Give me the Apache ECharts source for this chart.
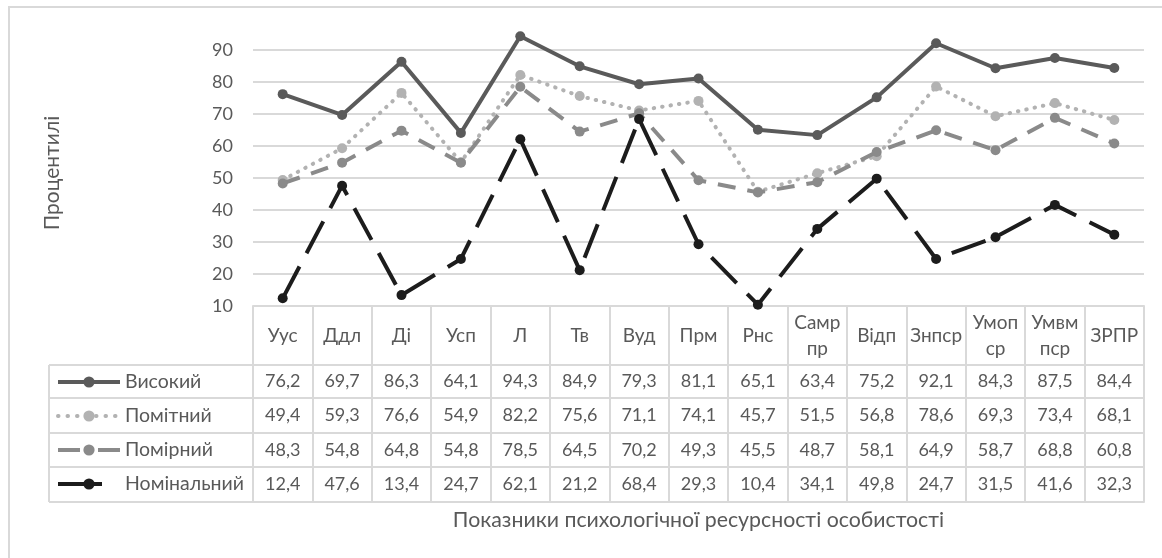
<!DOCTYPE html>
<html><head><meta charset="utf-8">
<script src="https://cdn.jsdelivr.net/npm/echarts@6/dist/echarts.min.js"></script>
<style>html,body{margin:0;padding:0;background:#fff}#c{width:1162px;height:558px}</style>
</head><body><div id="c"></div>
<script>
const categories = ['Уус','Ддл','Ді','Усп','Л','Тв','Вуд','Прм','Рнс','Самр\nпр','Відп','Знпср','Умоп\nср','Умвм\nпср','ЗРПР'];
const seriesNames = ['Високий','Помітний','Помірний','Номінальний'];
const vysokyi = [76.2,69.7,86.3,64.1,94.3,84.9,79.3,81.1,65.1,63.4,75.2,92.1,84.3,87.5,84.4];
const pomitnyi = [49.4,59.3,76.6,54.9,82.2,75.6,71.1,74.1,45.7,51.5,56.8,78.6,69.3,73.4,68.1];
const pomirnyi = [48.3,54.8,64.8,54.8,78.5,64.5,70.2,49.3,45.5,48.7,58.1,64.9,58.7,68.8,60.8];
const nominalnyi = [12.4,47.6,13.4,24.7,62.1,21.2,68.4,29.3,10.4,34.1,49.8,24.7,31.5,41.6,32.3];
const yMin = 10, yMax = 90, yInterval = 10;
const yTitle = 'Процентилі';
const xTitle = 'Показники психологічної ресурсності особистості';

const seriesData = [vysokyi, pomitnyi, pomirnyi, nominalnyi];
const colors = ['#5a5a5a', '#b2b2b2', '#8a8a8a', '#1c1c1c'];
const dashes = ['solid', [0.5, 8], [18, 12], [36, 15]];
const legendDashes = ['solid', [0.5, 9], [22, 18], [44, 30]];
const FONT = 'Lato';
const TXT = '#595959';
const LINE = '#d9d9d9';

const GRID_TOP = 50, GRID_BOTTOM_Y = 306, GRID_LEFT = 253, GRID_RIGHT = 1144;
const rowLines = [59, 92, 127, 161, 196]; // offsets below grid bottom
const fmt = v => v.toFixed(1).replace('.', ',');

const xAxes = [{
  type: 'category', data: categories, position: 'bottom', gridIndex: 0, offset: 0,
  boundaryGap: true,
  axisLine: {show: true, lineStyle: {color: LINE, width: 2}},
  axisTick: {show: true, interval: 0, length: rowLines[rowLines.length - 1], lineStyle: {color: LINE, width: 2}},
  axisLabel: {interval: 0, margin: rowLines[0] / 2, verticalAlign: 'middle', color: TXT, fontFamily: FONT, fontSize: 19, lineHeight: 26},
  splitLine: {show: false}
}];
seriesData.forEach((arr, i) => {
  const top = rowLines[i], bottom = rowLines[i + 1];
  xAxes.push({
    type: 'category', data: arr.map(fmt), position: 'bottom', gridIndex: 0, offset: top,
    boundaryGap: true,
    axisLine: {show: true, lineStyle: {color: LINE, width: 2}},
    axisTick: {show: false},
    axisLabel: {interval: 0, margin: (bottom - top) / 2, verticalAlign: 'middle', color: TXT, fontFamily: FONT, fontSize: 18},
    splitLine: {show: false}
  });
});
xAxes.push({
  type: 'category', data: categories.map(() => ''), position: 'bottom', gridIndex: 0, offset: rowLines[rowLines.length - 1],
  boundaryGap: true,
  axisLine: {show: true, lineStyle: {color: LINE, width: 2}},
  axisTick: {show: false}, axisLabel: {show: false}, splitLine: {show: false},
  name: xTitle, nameLocation: 'middle', nameGap: 18,
  nameTextStyle: {color: TXT, fontFamily: FONT, fontSize: 21.3, verticalAlign: 'middle'}
});

const graphics = [{
  type: 'rect', shape: {x: 9, y: 7, width: 1300, height: 700}, style: {fill: 'none', stroke: LINE, lineWidth: 2}, silent: true
}];
rowLines.forEach(o => {
  graphics.push({type: 'line', shape: {x1: 49, y1: GRID_BOTTOM_Y + o, x2: GRID_LEFT, y2: GRID_BOTTOM_Y + o}, style: {stroke: LINE, lineWidth: 2}, silent: true});
});
graphics.push({type: 'line', shape: {x1: 49, y1: GRID_BOTTOM_Y + rowLines[0], x2: 49, y2: GRID_BOTTOM_Y + rowLines[rowLines.length - 1]}, style: {stroke: LINE, lineWidth: 2}, silent: true});

const chart = echarts.init(document.getElementById('c'), null, {renderer: 'canvas'});
chart.setOption({
  animation: false,
  backgroundColor: '#fff',
  textStyle: {fontFamily: FONT},
  grid: {left: GRID_LEFT, right: 1162 - GRID_RIGHT, top: GRID_TOP, bottom: 558 - GRID_BOTTOM_Y},
  legend: {
    orient: 'vertical', left: 56, top: 372, padding: 0, itemWidth: 62, itemHeight: 14, itemGap: 14,
    textStyle: {color: TXT, fontFamily: FONT, fontSize: 19.5, lineHeight: 20},
    lineStyle: {width: 4},
    data: seriesNames.map((n, i) => ({name: n, lineStyle: {type: legendDashes[i], width: 4, cap: i === 1 ? 'round' : 'butt'}}))
  },
  xAxis: xAxes,
  yAxis: {
    type: 'value', min: yMin, max: yMax, interval: yInterval,
    axisLine: {show: false}, axisTick: {show: false},
    axisLabel: {color: TXT, fontFamily: FONT, fontSize: 18, margin: 20},
    splitLine: {lineStyle: {color: LINE, width: 2}},
    name: yTitle, nameLocation: 'middle', nameRotate: 90, nameGap: 190,
    nameTextStyle: {color: TXT, fontFamily: FONT, fontSize: 21, padding: [0, 0, 0, 10]}
  },
  series: seriesData.map((arr, i) => ({
    name: seriesNames[i], type: 'line', data: arr, xAxisIndex: 0, yAxisIndex: 0,
    clip: false, symbol: 'circle', symbolSize: 10,
    itemStyle: {color: colors[i]},
    lineStyle: {color: colors[i], width: 4, type: dashes[i], cap: i === 1 ? 'round' : 'butt'},
    z: 2 + i
  })),
  graphic: graphics
});
</script></body></html>
